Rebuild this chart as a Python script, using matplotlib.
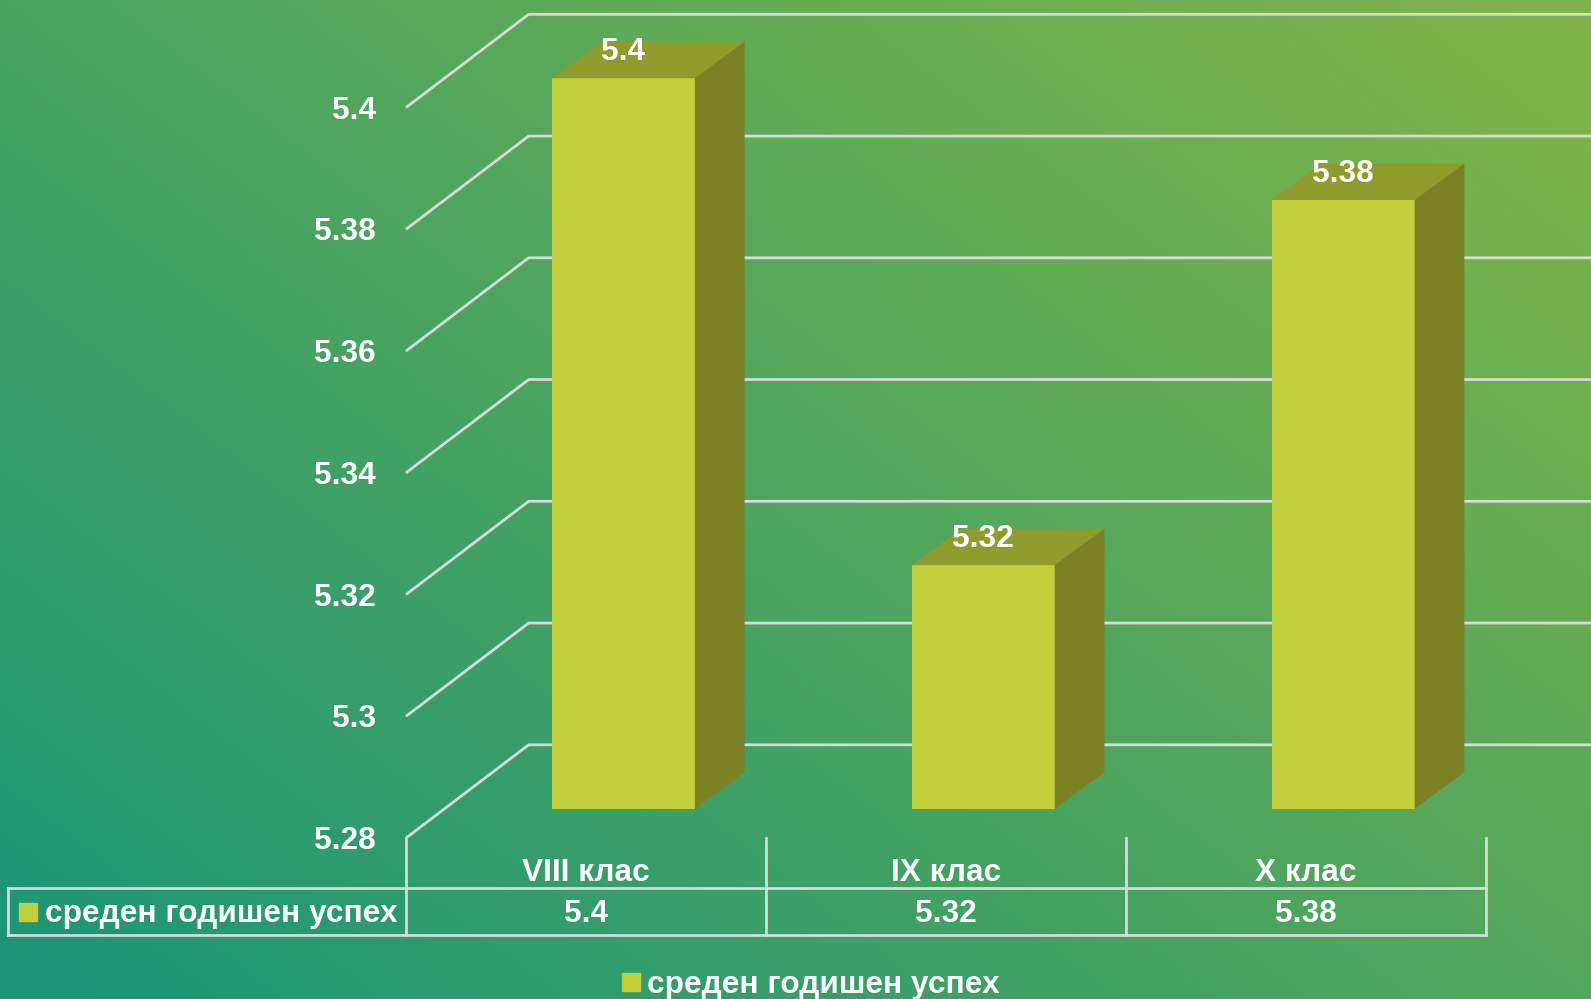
import numpy as np
import matplotlib
matplotlib.use('Agg')
import matplotlib.pyplot as plt
from matplotlib.lines import Line2D

# данни
categories = ['VIII клас', 'IX клас', 'X клас']
values = [5.4, 5.32, 5.38]
value_labels = ['5.4', '5.32', '5.38']
series_name = 'среден годишен успех'
y_ticks = [5.28, 5.3, 5.32, 5.34, 5.36, 5.38, 5.4]
y_tick_labels = ['5.28', '5.3', '5.32', '5.34', '5.36', '5.38', '5.4']

# цветове
bar_front = '#c0cf3a'
bar_top = '#8f9c2c'
bar_side = '#7b8226'
grid_col = '#d9d9d9'
txt_col = 'white'
FS = 22.8

plt.rcParams['font.family'] = ['Liberation Sans', 'DejaVu Sans']
plt.rcParams['font.weight'] = 'bold'

W, H = 1591, 999
fig = plt.figure(figsize=(W / 100, H / 100), dpi=100)

# фон - градиент
bg = fig.add_axes([0, 0, 1, 1])
xx, yy = np.meshgrid(np.linspace(0, 1, 400), np.linspace(1, 0, 250))
t = (xx * 0.55 + yy * 0.45)
c0 = np.array([26, 150, 120]) / 255
c1 = np.array([130, 181, 70]) / 255
img = c0[None, None, :] * (1 - t[..., None]) + c1[None, None, :] * t[..., None]
bg.imshow(img, extent=[0, 1, 0, 1], aspect='auto')
bg.axis('off')

# основна ос - x в категории, y в стойности (предна стена)
ax = fig.add_axes([0, 0, 1, 1])
ax.patch.set_alpha(0)
ax.axis('off')
x_left_px = 405.9
col_w = 359.9
y_lo_px, y_hi_px = 838.1, 107.6
ymin, ymax = y_ticks[0], y_ticks[-1]
py = (y_lo_px - y_hi_px) / (ymax - ymin)
ax.set_xlim(-x_left_px / col_w, (W - x_left_px) / col_w)
ax.set_ylim(ymin - (H - y_lo_px) / py, ymin + y_lo_px / py)
xr = ax.get_xlim()[1]


def dx(p):
    return p / col_w


def dy(p):
    return p / py


# дълбочина
wall_dx, wall_dy = dx(122.8), dy(93.3)
front_dx, front_dy = dx(37.5), dy(29.4)
depth_dx, depth_dy = dx(49.7), dy(36.5)
bar_w = dx(143)

# решетка
for v, lab in zip(y_ticks, y_tick_labels):
    ax.plot([0, wall_dx, xr], [v, v + wall_dy, v + wall_dy], color=grid_col, lw=2, zorder=1,
            solid_capstyle='butt')
    ax.text(dx(-30), v - dy(3), lab, ha='right', va='center',
            fontsize=FS, color=txt_col, fontweight='bold')

# стълбове
n = len(categories)
for i, v in enumerate(values):
    x0 = i + 0.5 + front_dx - bar_w / 2
    x1 = x0 + bar_w
    b = ymin + front_dy
    top = v + front_dy
    ax.fill([x0, x1, x1, x0], [b, b, top, top], color=bar_front, zorder=3, lw=0)
    ax.fill([x0, x1, x1 + depth_dx, x0 + depth_dx], [top, top, top + depth_dy, top + depth_dy],
            color=bar_top, zorder=3, lw=0)
    ax.fill([x1, x1 + depth_dx, x1 + depth_dx, x1], [b, b + depth_dy, top + depth_dy, top],
            color=bar_side, zorder=3, lw=0)
    ax.text((x0 + x1) / 2, top + dy(26), value_labels[i], ha='center', va='center',
            fontsize=FS, color=txt_col, fontweight='bold', zorder=4)

# таблица с данни
row1 = ymin - dy(49.7)
row2 = ymin - dy(97.4)
left = -x_left_px / col_w + dx(8)
for i in range(n + 1):
    ax.plot([i, i], [ymin, row2], color=grid_col, lw=2, zorder=2)
ax.plot([left, left], [row1, row2], color=grid_col, lw=2, zorder=2)
ax.plot([left, n], [row1, row1], color=grid_col, lw=2, zorder=2)
ax.plot([left, n], [row2, row2], color=grid_col, lw=2, zorder=2)
for i, c in enumerate(categories):
    ax.text(i + 0.5, ymin - dy(35), c, ha='center', va='center', fontsize=FS,
            color=txt_col, fontweight='bold')
    ax.text(i + 0.5, (row1 + row2) / 2 - dy(2.5), value_labels[i], ha='center', va='center',
            fontsize=FS, color=txt_col, fontweight='bold')
ax.plot([left + dx(20)], [(row1 + row2) / 2], marker='s', ms=13, color=bar_front, lw=0)
ax.text(left + dx(37), (row1 + row2) / 2 - dy(2.5), series_name, ha='left', va='center', fontsize=FS,
        color=txt_col, fontweight='bold')

# легенда
h = Line2D([], [], marker='s', ms=13, color=bar_front, lw=0)
leg = fig.legend([h], [series_name], loc='center', bbox_to_anchor=(809 / W, 1 - 985 / H),
                 frameon=False, fontsize=FS, handletextpad=0.1, handlelength=0.8)
for tx in leg.get_texts():
    tx.set_color(txt_col)
    tx.set_fontweight('bold')

fig.savefig('out.png', dpi=100)
